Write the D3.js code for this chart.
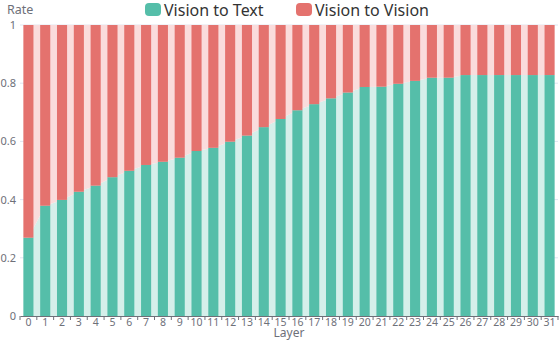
<!DOCTYPE html>
<html>
<head>
<meta charset="utf-8">
<script src="https://cdn.jsdelivr.net/npm/d3@7"></script>
<style>
  body { margin: 0; background: #fff; }
  text { font-family: "Noto Sans", "Open Sans", sans-serif; }
</style>
</head>
<body>
<svg id="chart"></svg>
<script>
const size = {w: 560, h: 340};
const margin = {t: 25, r: 2, b: 24, l: 20};

// data
const layers = d3.range(32).map(String);
const visionToText = [0.269, 0.379, 0.399, 0.427, 0.448, 0.477, 0.499, 0.519, 0.530, 0.544,
    0.567, 0.578, 0.599, 0.620, 0.649, 0.677, 0.707, 0.728, 0.748, 0.768,
    0.787, 0.788, 0.798, 0.808, 0.819, 0.819, 0.828, 0.828, 0.828, 0.828,
    0.828, 0.828];
const visionToVision = visionToText.map(v => 1 - v);
const yTicks = [0, 0.2, 0.4, 0.6, 0.8, 1];
const seriesNames = ['Vision to Text', 'Vision to Vision'];

const colors = {
    text: '#55bea9', textLight: '#d5efea',
    vision: '#e4726e', visionLight: '#fadcdc'
};

const svg = d3.select('svg#chart')
    .attr('width', size.w)
    .attr('height', size.h);

const x = d3.scaleBand()
    .domain(layers)
    .range([margin.l, size.w - margin.r]);
const y = d3.scaleLinear()
    .domain([0, 1])
    .range([size.h - margin.b, margin.t]);

const barW = x.bandwidth() * 0.6;
const cx = d => x(d) + x.bandwidth() / 2;

// grid lines
svg.append('g')
    .selectAll('line')
    .data(yTicks.filter(d => d > 0))
    .join('line')
    .attr('x1', margin.l)
    .attr('x2', size.w - margin.r)
    .attr('y1', d => y(d))
    .attr('y2', d => y(d))
    .attr('stroke', '#e0e6f1');

// light areas behind the bars
const rows = layers.map((l, i) => ({layer: l, t: visionToText[i], v: visionToVision[i]}));

const areaText = d3.area()
    .x(d => cx(d.layer))
    .y0(y(0))
    .y1(d => y(d.t));
const areaVision = d3.area()
    .x(d => cx(d.layer))
    .y0(d => y(d.t))
    .y1(d => y(d.t + d.v));

svg.append('path').datum(rows).attr('d', areaText).attr('fill', colors.textLight);
svg.append('path').datum(rows).attr('d', areaVision).attr('fill', colors.visionLight);

// stacked bars
const bars = svg.append('g');
bars.selectAll('rect.text')
    .data(rows)
    .join('rect')
    .attr('class', 'text')
    .attr('x', d => cx(d.layer) - barW / 2)
    .attr('width', barW)
    .attr('y', d => y(d.t))
    .attr('height', d => y(0) - y(d.t))
    .attr('fill', colors.text);
bars.selectAll('rect.vision')
    .data(rows)
    .join('rect')
    .attr('class', 'vision')
    .attr('x', d => cx(d.layer) - barW / 2)
    .attr('width', barW)
    .attr('y', d => y(d.t + d.v))
    .attr('height', d => y(d.t) - y(d.t + d.v))
    .attr('fill', colors.vision);

// x axis
const xAxis = svg.append('g')
    .attr('transform', `translate(0, ${y(0)})`)
    .call(d3.axisBottom(x).tickSize(0).tickPadding(3));
xAxis.select('.domain').attr('stroke', '#6e7079');
xAxis.selectAll('text').attr('fill', '#6e7079').attr('font-size', 10.5);

// small ticks on category boundaries
svg.append('g')
    .selectAll('line')
    .data(layers.concat(['end']))
    .join('line')
    .attr('x1', (d, i) => margin.l + i * x.step())
    .attr('x2', (d, i) => margin.l + i * x.step())
    .attr('y1', y(0))
    .attr('y2', y(0) + 4)
    .attr('stroke', '#6e7079');

// y axis
const yAxis = svg.append('g')
    .attr('transform', `translate(${margin.l}, 0)`)
    .call(d3.axisLeft(y).tickValues(yTicks).tickFormat(d3.format('~g')).tickSize(0).tickPadding(4));
yAxis.select('.domain').remove();
yAxis.selectAll('text').attr('fill', '#6e7079').attr('font-size', 11);

// axis names
svg.append('text')
    .attr('x', 7)
    .attr('y', 14)
    .attr('fill', '#6e7079')
    .attr('font-size', 12.5)
    .text('Rate');
svg.append('text')
    .attr('x', (margin.l + size.w - margin.r) / 2)
    .attr('y', 336.5)
    .attr('text-anchor', 'middle')
    .attr('fill', '#6e7079')
    .attr('font-size', 12)
    .text('Layer');

// legend
const legend = svg.append('g');
const legendItems = [
    {name: seriesNames[0], color: colors.text, x: 145},
    {name: seriesNames[1], color: colors.vision, x: 296}
];
const item = legend.selectAll('g')
    .data(legendItems)
    .join('g')
    .attr('transform', d => `translate(${d.x}, 3)`);
item.append('rect')
    .attr('width', 16)
    .attr('height', 13)
    .attr('rx', 4)
    .attr('fill', d => d.color);
item.append('text')
    .attr('x', 19)
    .attr('y', 12.5)
    .attr('font-size', 16)
    .attr('fill', '#333')
    .text(d => d.name);
</script>
</body>
</html>
